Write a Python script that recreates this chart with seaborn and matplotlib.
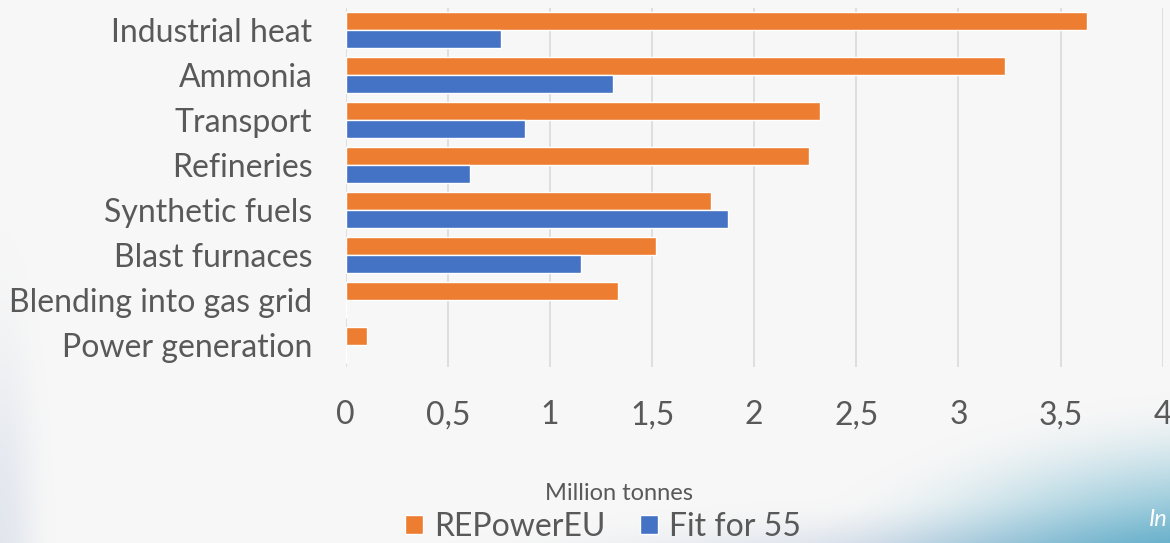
import numpy as np
import pandas as pd
import matplotlib
matplotlib.use("Agg")
import matplotlib.pyplot as plt
import seaborn as sns

categories = ["Industrial heat", "Ammonia", "Transport", "Refineries",
              "Synthetic fuels", "Blast furnaces", "Blending into gas grid",
              "Power generation"]
repowereu = [3.63, 3.23, 2.32, 2.27, 1.79, 1.52, 1.335, 0.105]
fit_for_55 = [0.76, 1.31, 0.88, 0.61, 1.87, 1.15, 0.0, 0.0]
series_names = ["REPowerEU", "Fit for 55"]
colors = ["#ED7D31", "#4472C4"]
x_ticks = [0, 0.5, 1, 1.5, 2, 2.5, 3, 3.5, 4]
x_tick_labels = ["0", "0,5", "1", "1,5", "2", "2,5", "3", "3,5", "4"]
x_label = "Million tonnes"

df = pd.DataFrame({
    "category": categories * 2,
    "value": repowereu + fit_for_55,
    "series": [series_names[0]] * len(categories) + [series_names[1]] * len(categories),
})

sns.set_theme(style="white")
plt.rcParams["font.family"] = ["Lato", "DejaVu Sans"]
text_color = "#595959"

W, H = 1170, 543
fig = plt.figure(figsize=(W / 100, H / 100), dpi=100)

def smooth(t):
    t = np.clip(t, 0, 1)
    return t * t * (3 - 2 * t)

# decorative background
bg = fig.add_axes([0, 0, 1, 1], zorder=-10)
yy, xx = np.mgrid[0:H, 0:W].astype(float)
base = np.array([247, 247, 247]) / 255.0
teal = np.array([65, 160, 192]) / 255.0
slate = np.array([150, 170, 205]) / 255.0
d1 = np.sqrt(((xx - 1240) / 480.0) ** 2 + ((yy - 620) / 230.0) ** 2)
w1 = 0.95 * smooth(1.1 * (1 - d1))
d2 = np.sqrt(((xx - 1000) / 620.0) ** 2 + ((yy - 580) / 85.0) ** 2)
w2 = 0.5 * smooth(1 - d2)
d3 = np.sqrt((xx / 55.0) ** 2 + ((yy - 560) / 330.0) ** 2)
w3 = 0.22 * smooth(1 - d3)
img = base * np.ones((H, W, 1))
img = img * (1 - w2[..., None]) + slate * w2[..., None]
img = img * (1 - w3[..., None]) + slate * w3[..., None]
img = img * (1 - w1[..., None]) + teal * w1[..., None]
bg.imshow(img, aspect="auto", extent=[0, W, H, 0])
bg.set_axis_off()

ax = fig.add_axes([345.7 / W, 1 - 367 / H, 817 / W, 359 / H])
ax.patch.set_alpha(0)
sns.barplot(data=df, y="category", x="value", hue="series", orient="h",
            palette=colors, order=categories, hue_order=series_names,
            width=0.8, ax=ax, saturation=1, legend=True)

ax.set_xlim(0, 4)
ax.set_xticks(x_ticks)
ax.set_xticklabels(x_tick_labels)
ax.set_ylabel("")
ax.set_xlabel("")
for s in ax.spines.values():
    s.set_visible(False)
ax.grid(axis="x", color="#d9d9d9", linewidth=1.2)
ax.grid(axis="y", visible=False)
ax.set_axisbelow(True)
ax.tick_params(axis="x", length=0, pad=24, labelsize=23, labelcolor=text_color)
ax.tick_params(axis="y", length=0, pad=24, labelsize=23, labelcolor=text_color)

handles, labels = ax.get_legend_handles_labels()
ax.get_legend().remove()
fig.text(619 / W, 1 - 493 / H, x_label, ha="center", va="center",
         fontsize=17, color=text_color)
fig.legend(handles, labels, loc="center", bbox_to_anchor=(603 / W, 1 - 527 / H),
           ncol=2, frameon=False, fontsize=23, labelcolor=text_color,
           handlelength=0.55, handleheight=0.55, handletextpad=0.35, columnspacing=1.1,
           borderpad=0)
fig.text(1168 / W, 1 - 519 / H, "In", ha="right", va="center", fontsize=17,
         color="white", style="italic")

fig.savefig("out.png", dpi=100)
